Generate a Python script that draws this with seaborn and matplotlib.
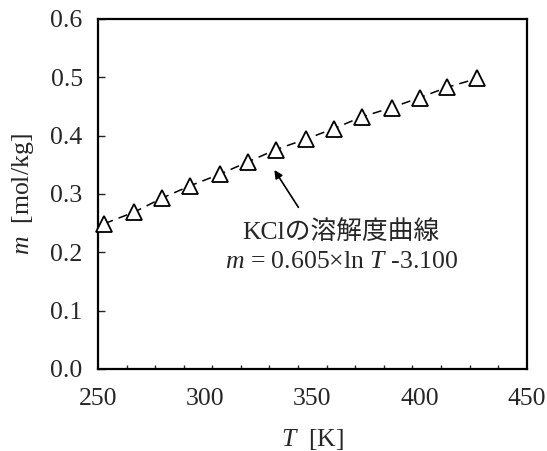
import numpy as np
import matplotlib
matplotlib.use('Agg')
import matplotlib.pyplot as plt
import seaborn as sns

# KCl solubility curve
temperature_K = [253, 267, 280, 293, 307, 320, 333, 347, 360, 373, 387, 400, 413, 427]
molality = [0.249, 0.269, 0.293, 0.314, 0.334, 0.355, 0.376, 0.394,
            0.412, 0.432, 0.448, 0.465, 0.483, 0.498]

x_ticks = [250, 300, 350, 400, 450]
y_ticks = [0.0, 0.1, 0.2, 0.3, 0.4, 0.5, 0.6]

sns.set_style('ticks')
plt.rcParams['font.family'] = ['Liberation Serif', 'Noto Sans CJK JP']
plt.rcParams['mathtext.fontset'] = 'custom'
plt.rcParams['mathtext.rm'] = 'Liberation Serif'
plt.rcParams['mathtext.it'] = 'Liberation Serif:italic'

fs = 18.5

fig = plt.figure(figsize=(5.47, 4.51), dpi=100)
ax = fig.add_axes([0.179, 0.182, 0.784, 0.776])

sns.lineplot(x=temperature_K, y=molality, ax=ax, color='black', lw=1.1,
             marker='^', markersize=12, markerfacecolor='white',
             markeredgecolor='black', markeredgewidth=1.3, clip_on=False, zorder=5)
ax.lines[0].set_dashes((6, 4))

ax.set_xlim(250, 450)
ax.set_ylim(0, 0.6)
ax.set_xticks(x_ticks)
ax.set_xticks(np.linspace(250, 450, 16), minor=True)
ax.set_yticks(y_ticks)
ax.set_yticklabels([f'{v:.1f}' for v in y_ticks])
ax.tick_params(axis='x', which='major', direction='in', length=0, pad=14, labelsize=fs)
ax.tick_params(axis='x', which='minor', direction='in', length=3, width=1)
ax.tick_params(axis='y', which='major', direction='in', length=5, width=1, pad=11, labelsize=fs)

for side in ['top', 'right', 'bottom', 'left']:
    ax.spines[side].set_visible(True)
    ax.spines[side].set_linewidth(1.6)
    ax.spines[side].set_color('black')

ax.set_xlabel(r'$T$  [K]', fontsize=fs, labelpad=12)
ax.set_ylabel(r'$m$  [mol/kg]', fontsize=fs, labelpad=10)

ax.annotate('', xy=(331.6, 0.345), xytext=(344.2, 0.273),
            arrowprops=dict(arrowstyle='-|>', color='black', lw=1.2, mutation_scale=12))
ax.text(363.5, 0.235, 'KClの溶解度曲線', ha='center', va='center', fontsize=fs)
ax.text(363.5, 0.183, r'$m$ = 0.605×ln $T$ -3.100', ha='center', va='center', fontsize=fs)

fig.savefig('out.png', dpi=100)
